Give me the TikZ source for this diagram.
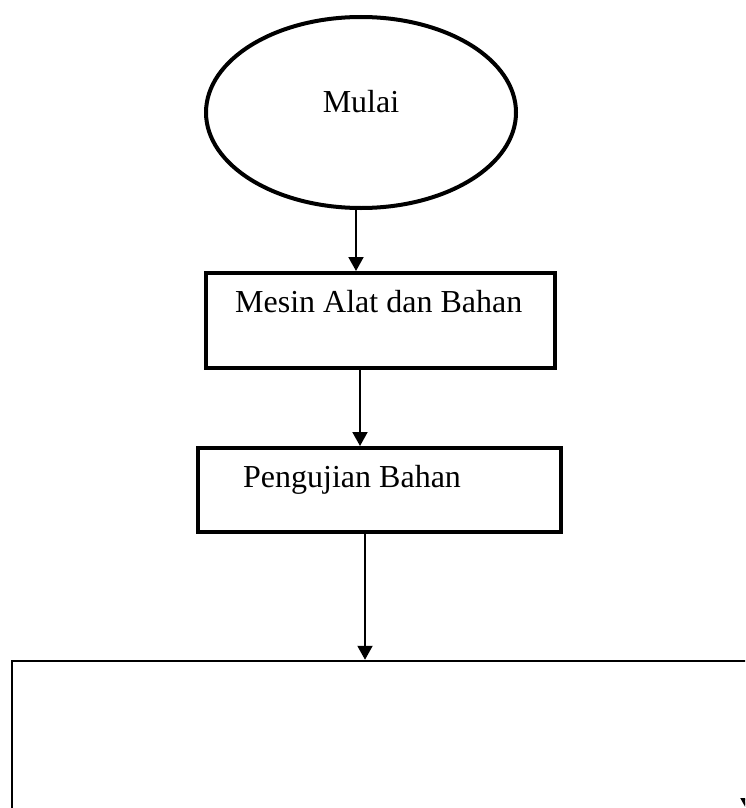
\documentclass[tikz,border=0pt]{standalone}
\usepackage{fontspec}
\setmainfont{Liberation Serif}
\usetikzlibrary{shapes.geometric, arrows.meta}

\begin{document}
\begin{tikzpicture}[x=1pt, y=-1pt,
        blok/.style={draw, line width=4pt, rectangle, inner sep=0pt},
        teks/.style={font=\fontsize{32}{38}\selectfont, inner sep=0pt},
        arr/.style={line width=2pt, -{Triangle[width=15pt,length=14pt]}}]
        \useasboundingbox (0,0) rectangle (745,808);
        \clip (0,0) rectangle (745,808);
        \fill[white] (0,0) rectangle (745,808);
        \node[draw, ellipse, line width=4pt, minimum width=310pt, minimum height=191pt] (mulai) at (361,112.5) {};
        \node[teks, anchor=base] (tmulai) at (361,112) {Mulai};
        \node[blok, minimum width=349pt, minimum height=95pt] (alat) at (380.5,320.5) {};
        \node[teks, anchor=base west] (talat) at (235,312) {Mesin Alat dan Bahan};
        \node[blok, minimum width=363pt, minimum height=84pt] (uji) at (379.5,490) {};
        \node[teks, anchor=base west] (tuji) at (243,487) {Pengujian Bahan};
        \node[draw, line width=2.5pt, rectangle, minimum width=788pt, minimum height=239pt] (proses) at (406,780.5) {};
        \draw[arr] ([xshift=-5pt]mulai.south) -- ([xshift=-5pt]mulai.south |- alat.north);
        \draw[arr] ([xshift=-20.5pt]alat.south) -- ([xshift=-20.5pt]alat.south |- uji.north);
        \draw[arr] ([xshift=-14.5pt]uji.south) -- ([xshift=-14.5pt]uji.south |- proses.north);
        \coordinate (kanan) at (748,760);
        \coordinate (bawah) at (748,812);
        \draw[arr] (kanan) -- (bawah);
    \end{tikzpicture}
\end{document}
